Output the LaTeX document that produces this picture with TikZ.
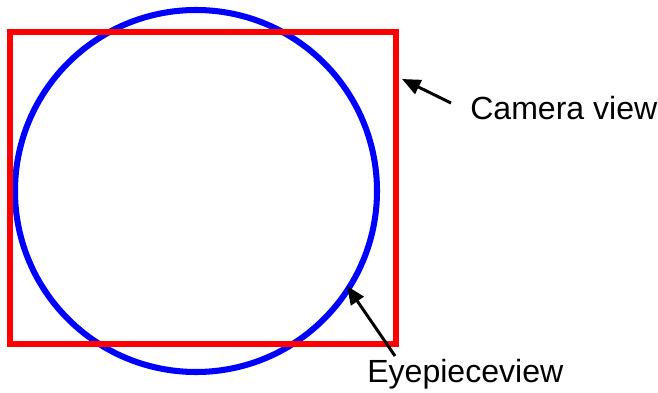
\documentclass[tikz,border=0pt]{standalone}
\usepackage{fontspec}
\setmainfont{Liberation Sans}
\usepackage{tikz}
\usetikzlibrary{arrows.meta, positioning}
\tikzset{
  viewline/.style={line width=4.3pt},
  viewarrow/.style={
    -{Triangle[length=4.6mm, width=3.8mm]}, line width=2.1pt, color=black
  },
  viewlabel/.style={
    anchor=base west, inner sep=0pt, font=\fontsize{22.8}{27}\selectfont
  },
}
\begin{document}
\begin{tikzpicture}[x=0.025cm, y=-0.025cm]
  \useasboundingbox (0,0) rectangle (658,393);

  % Eyepiece view and camera view
  \draw[viewline, blue] (196,191) circle[radius=181];
  \draw[viewline, red] (10,32) rectangle (396,344);

  % Labels
  \node[viewlabel] (camlbl) at (470,120) {Camera view};
  \node[viewlabel] (eyelbl) at (367,382) {Eyepieceview};

  % Arrow ends
  \coordinate (camtip) at (402,79);
  \coordinate (camtail) at (451,103);
  \coordinate (eyetip) at (347,286);
  \coordinate (eyetail) at (395,356);

  % Arrows
  \draw[viewarrow] (camtail) -- (camtip);
  \draw[viewarrow] (eyetail) -- (eyetip);
\end{tikzpicture}
\end{document}
